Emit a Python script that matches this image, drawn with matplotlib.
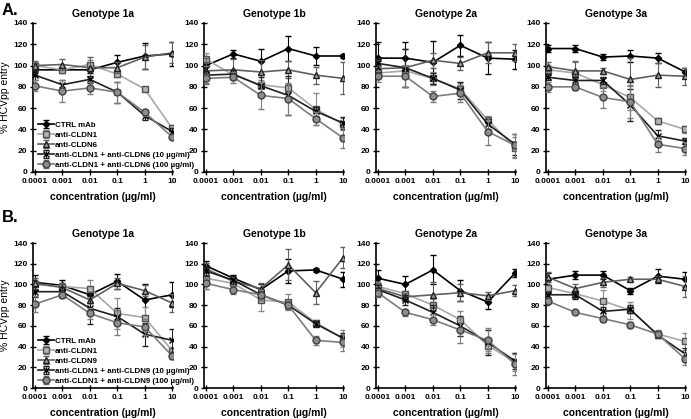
import numpy as np
import matplotlib
matplotlib.use("Agg")
import matplotlib.pyplot as plt

plt.rcParams['font.family'] = ['Liberation Sans', 'DejaVu Sans']
plt.rcParams['font.weight'] = 'bold'

conc_labels = ["0.0001", "0.001", "0.01", "0.1", "1", "10"]
genotypes = ["Genotype 1a", "Genotype 1b", "Genotype 2a", "Genotype 3a"]

names_a = ["CTRL mAb", "anti-CLDN1", "anti-CLDN6",
           "anti-CLDN1 + anti-CLDN6 (10 µg/ml)", "anti-CLDN1 + anti-CLDN6 (100 µg/ml)"]
names_b = ["CTRL mAb", "anti-CLDN1", "anti-CLDN9",
           "anti-CLDN1 + anti-CLDN9 (10 µg/ml)", "anti-CLDN1 + anti-CLDN9 (100 µg/ml)"]

# panel A: values per genotype, series order as in legend
a_1a = [[96, 96, 96, 103, 109, 111],
        [100, 96, 101, 92, 78, 41],
        [100, 101, 98, 98, 108, 112],
        [91, 82, 87, 75, 53, 38],
        [81, 76, 79, 75, 56, 33]]
a_1b = [[100, 111, 104, 116, 109, 109],
        [106, 91, 82, 79, 59, 45],
        [95, 96, 94, 96, 91, 88],
        [91, 92, 81, 72, 57, 46],
        [88, 89, 72, 69, 50, 32]]
a_2a = [[107, 107, 103, 119, 107, 106],
        [93, 95, 88, 78, 49, 23],
        [97, 98, 105, 102, 112, 112],
        [102, 98, 88, 77, 45, 26],
        [90, 90, 71, 74, 38, 25]]
a_3a = [[116, 116, 108, 109, 107, 94],
        [96, 93, 82, 70, 48, 40],
        [99, 95, 95, 87, 91, 90],
        [89, 86, 86, 63, 34, 29],
        [80, 80, 70, 66, 26, 22]]

a_1a_err = [[5, 2, 3, 7, 12, 11], [3, 3, 4, 3, 2, 3], [4, 5, 10, 5, 11, 10],
            [5, 4, 3, 10, 4, 3], [5, 10, 6, 10, 3, 2]]
a_1b_err = [[6, 4, 12, 12, 8, 2], [6, 3, 4, 4, 15, 6], [12, 10, 11, 8, 8, 15],
            [4, 4, 8, 18, 4, 6], [4, 5, 13, 15, 6, 9]]
a_2a_err = [[15, 15, 20, 10, 15, 9], [6, 5, 6, 6, 4, 10], [8, 18, 7, 6, 10, 8],
            [5, 18, 5, 8, 5, 10], [5, 10, 5, 8, 13, 11]]
a_3a_err = [[3, 3, 3, 6, 5, 4], [5, 10, 6, 12, 3, 3], [4, 9, 3, 20, 11, 8],
            [3, 3, 3, 15, 5, 3], [5, 3, 10, 15, 7, 6]]

# panel B
b_1a = [[102, 99, 90, 103, 85, 90],
        [100, 98, 96, 72, 68, 36],
        [101, 97, 85, 101, 94, 82],
        [93, 93, 77, 69, 52, 46],
        [81, 90, 72, 63, 59, 31]]
b_1b = [[118, 106, 95, 113, 114, 105],
        [106, 101, 85, 83, 63, 48],
        [115, 103, 96, 119, 92, 126],
        [113, 104, 90, 80, 62, 48],
        [101, 95, 90, 80, 46, 44]]
b_2a = [[106, 100, 114, 94, 83, 111],
        [98, 91, 80, 66, 41, 25],
        [96, 88, 90, 92, 89, 94],
        [95, 85, 73, 60, 44, 26],
        [92, 73, 66, 56, 46, 23]]
b_3a = [[105, 109, 109, 94, 108, 105],
        [97, 91, 84, 75, 52, 45],
        [107, 96, 102, 105, 105, 98],
        [90, 90, 74, 76, 51, 33],
        [84, 73, 67, 61, 52, 28]]

b_1a_err = [[7, 5, 8, 7, 15, 12], [6, 3, 8, 15, 10, 4], [5, 4, 8, 5, 5, 9],
            [5, 5, 15, 8, 11, 11], [8, 3, 5, 12, 8, 3]]
b_1b_err = [[5, 3, 5, 12, 2, 7], [10, 4, 11, 8, 3, 8], [6, 4, 5, 15, 11, 10],
            [5, 4, 5, 4, 3, 5], [5, 4, 5, 4, 4, 8]]
b_2a_err = [[8, 8, 14, 10, 7, 4], [4, 3, 6, 8, 5, 9], [5, 4, 12, 8, 4, 5],
            [4, 5, 7, 10, 12, 8], [4, 3, 5, 13, 12, 10]]
b_3a_err = [[6, 4, 4, 3, 7, 7], [5, 4, 11, 8, 4, 8], [5, 4, 4, 2, 3, 10],
            [3, 4, 4, 4, 3, 6], [3, 2, 3, 3, 3, 6]]

# style per series: line colour, marker, marker face, marker edge, size
styles = [
    dict(color="#000000", marker="D", mfc="#000000", mec="#000000", ms=3.2),
    dict(color="#a8a8a8", marker="s", mfc="#b4b4b4", mec="#505050", ms=5),
    dict(color="#606060", marker="^", mfc="#a0a0a0", mec="#202020", ms=5),
    dict(color="#202020", marker="x", mfc="#000000", mec="#000000", ms=5),
    dict(color="#7c7c7c", marker="o", mfc="#8c8c8c", mec="#404040", ms=5),
]

fig = plt.figure(figsize=(6.91, 4.19), dpi=100)
W, H = 691.0, 419.0
lefts = [33, 204, 376, 546]
rows = [(23, 172, [a_1a, a_1b, a_2a, a_3a], [a_1a_err, a_1b_err, a_2a_err, a_3a_err], names_a),
        (243, 388, [b_1a, b_1b, b_2a, b_3a], [b_1a_err, b_1b_err, b_2a_err, b_3a_err], names_b)]

x = np.arange(len(conc_labels))
for r, (top, bot, data, errs, names) in enumerate(rows):
    for c in range(4):
        ax = fig.add_axes([lefts[c] / W, 1 - bot / H, 140 / W, (bot - top) / H])
        ax.patch.set_visible(False)
        for k in range(5):
            st = styles[k]
            ax.errorbar(x, data[c][k], yerr=errs[c][k], color=st["color"], lw=1.2,
                        marker=st["marker"], mfc=st["mfc"], mec=st["mec"], ms=st["ms"],
                        mew=1.0, ecolor=st["color"] if k != 1 else "#8a8a8a",
                        elinewidth=0.8, capsize=2, capthick=0.8, label=names[k],
                        zorder=3 + k)
        ax.set_xlim(-0.07, 5.03)
        ax.set_ylim(0, 140)
        ax.set_yticks(range(0, 141, 20))
        ax.set_xticks(x)
        ax.set_xticklabels(conc_labels)
        ax.tick_params(direction="inout", length=4, width=1, labelsize=6, pad=2)
        for s in ["top", "right"]:
            ax.spines[s].set_visible(False)
        for s in ["left", "bottom"]:
            ax.spines[s].set_linewidth(1.2)
        ax.set_title(genotypes[c], fontsize=7.5, fontweight="bold", pad=4)
        ax.set_xlabel("concentration (µg/ml)", fontsize=7.5, fontweight="bold",
                      labelpad=5)
        if c == 0:
            ax.set_ylabel("% HCVpp entry", fontsize=7.5, fontweight="normal", labelpad=2)
            ax.legend(loc="lower left", bbox_to_anchor=(0.0, -0.01), frameon=False,
                      fontsize=5.7, handlelength=2.0, handletextpad=0.2,
                      labelspacing=0.3, borderpad=0.1)

fig.text(2 / W, 1 - 3 / H, "A.", fontsize=12, fontweight="bold", va="top")
fig.text(2 / W, 1 - 210 / H, "B.", fontsize=12, fontweight="bold", va="top")

fig.savefig("out.png", dpi=100)
